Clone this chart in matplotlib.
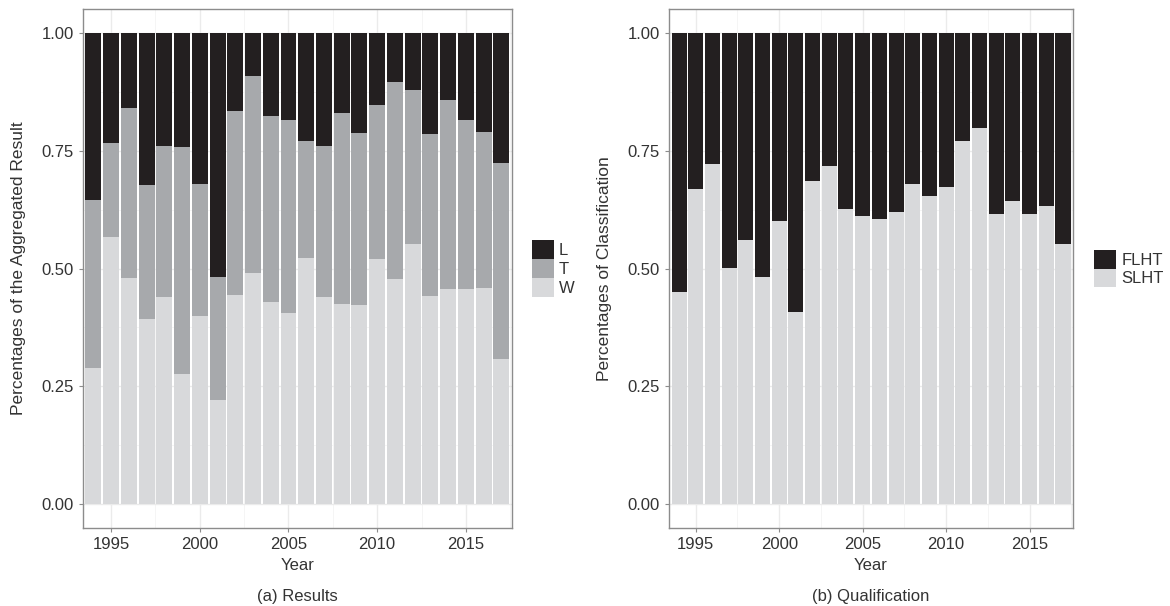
import matplotlib
matplotlib.use("Agg")
import matplotlib.pyplot as plt
import numpy as np

plt.rcParams["font.family"] = ["Liberation Sans", "DejaVu Sans"]

years = list(range(1994, 2018))

# (a) share of W, and W+T cumulative
res_w = [0.290, 0.567, 0.479, 0.392, 0.440, 0.276, 0.399, 0.221, 0.444, 0.491, 0.430, 0.406,
         0.522, 0.440, 0.425, 0.423, 0.520, 0.478, 0.551, 0.442, 0.456, 0.456, 0.459, 0.309]
res_wt = [0.645, 0.767, 0.840, 0.678, 0.760, 0.758, 0.680, 0.481, 0.833, 0.907, 0.823, 0.815,
          0.771, 0.760, 0.830, 0.788, 0.846, 0.896, 0.878, 0.786, 0.857, 0.815, 0.789, 0.724]
res_t = [b - a for a, b in zip(res_w, res_wt)]
res_l = [1 - b for b in res_wt]

# (b) share of SLHT
slht = [0.450, 0.668, 0.721, 0.501, 0.560, 0.482, 0.600, 0.407, 0.685, 0.718, 0.627, 0.611,
        0.605, 0.620, 0.680, 0.654, 0.673, 0.771, 0.797, 0.615, 0.643, 0.615, 0.632, 0.552]
flht = [1 - s for s in slht]

C_DARK, C_MID, C_LIGHT = "#231f20", "#a7a9ac", "#d8d9db"
BORDER = "#8c8c8c"
TXT = "#333333"


def style(ax, ylabel):
    ax.set_xticks([1995, 2000, 2005, 2010, 2015])
    ax.set_yticks([0, 0.25, 0.5, 0.75, 1.0])
    ax.set_yticklabels(["0.00", "0.25", "0.50", "0.75", "1.00"])
    ax.set_xticks([1997.5, 2002.5, 2007.5, 2012.5, 2017.5], minor=True)
    ax.set_yticks([0.125, 0.375, 0.625, 0.875], minor=True)
    ax.set_xlim(1993.4, 2017.6)
    ax.set_ylim(-0.05, 1.05)
    ax.grid(True, which="major", color="#ebebeb", linewidth=1.0)
    ax.grid(True, which="minor", color="#f4f4f4", linewidth=0.6)
    ax.set_axisbelow(True)
    ax.tick_params(which="major", colors=BORDER, labelcolor=TXT, labelsize=12, length=3, width=0.8)
    ax.tick_params(which="minor", length=0)
    for s in ax.spines.values():
        s.set_color(BORDER)
        s.set_linewidth(1.0)
    ax.set_xlabel("Year", fontsize=12, color=TXT, labelpad=4)
    ax.set_ylabel(ylabel, fontsize=12.5, color=TXT, labelpad=11)


fig = plt.figure(figsize=(11.7, 6.06), dpi=100)
ax1 = fig.add_axes([0.0707, 0.1287, 0.3669, 0.8564])
ax2 = fig.add_axes([0.5718, 0.1287, 0.3453, 0.8564])

x = np.array(years)
w = 0.9
b1 = ax1.bar(x, res_w, width=w, color=C_LIGHT, label="W", zorder=2)
b2 = ax1.bar(x, res_t, width=w, bottom=res_w, color=C_MID, label="T", zorder=2)
b3 = ax1.bar(x, res_l, width=w, bottom=res_wt, color=C_DARK, label="L", zorder=2)
style(ax1, "Percentages of the Aggregated Result")
ax1.legend([b3, b2, b1], ["L", "T", "W"], loc="center left", bbox_to_anchor=(1.03, 0.5),
           frameon=False, fontsize=12, handlelength=1.35, handleheight=1.35,
           labelspacing=0.0, handletextpad=0.3, borderaxespad=0, labelcolor=TXT)

s1 = ax2.bar(x, slht, width=w, color=C_LIGHT, label="SLHT", zorder=2)
s2 = ax2.bar(x, flht, width=w, bottom=slht, color=C_DARK, label="FLHT", zorder=2)
style(ax2, "Percentages of Classification")
ax2.legend([s2, s1], ["FLHT", "SLHT"], loc="center left", bbox_to_anchor=(1.035, 0.5),
           frameon=False, fontsize=12, handlelength=1.35, handleheight=1.35,
           labelspacing=0.0, handletextpad=0.3, borderaxespad=0, labelcolor=TXT)

fig.text(0.0707 + 0.3669 / 2, 0.0165, "(a) Results", ha="center", va="center", fontsize=12, color=TXT)
fig.text(0.5718 + 0.3453 / 2, 0.0165, "(b) Qualification", ha="center", va="center", fontsize=12, color=TXT)

fig.savefig("out.png", dpi=100)
